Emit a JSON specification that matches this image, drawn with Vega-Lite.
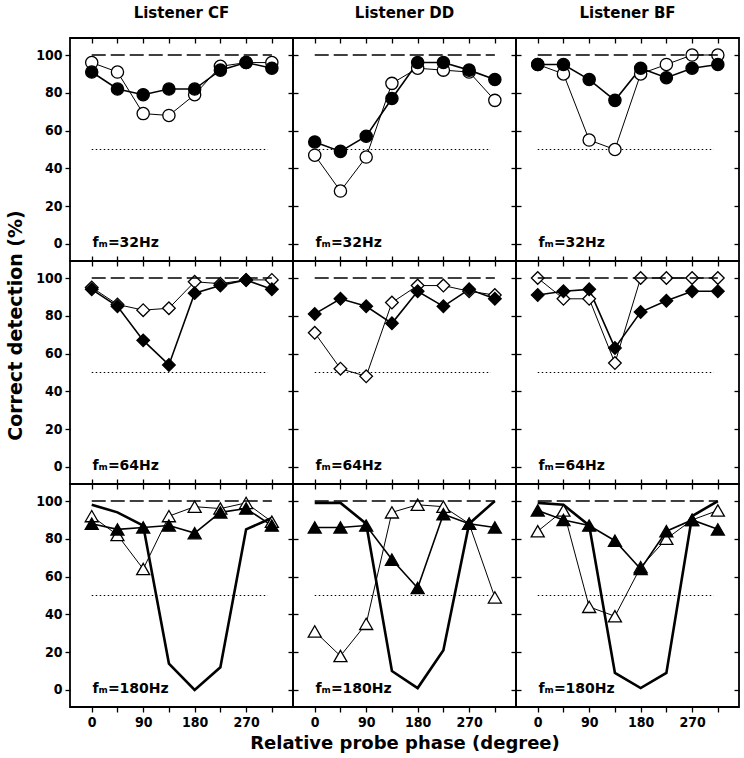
{
"$schema": "https://vega.github.io/schema/vega-lite/v6.json",
"background": "white",
"padding": {"left": 5, "top": 5, "right": 5, "bottom": 2},
"config": {
 "font": "DejaVu Sans",
 "view": {"stroke": "black", "strokeWidth": 1.8},
 "axis": {"domain": false, "grid": false, "tickColor": "black", "tickWidth": 1.3, "tickSize": 5, "labelColor": "black", "labelFontSize": 14, "labelFontWeight": "bold", "labelFont": "DejaVu Sans Condensed, Liberation Sans Narrow, Liberation Sans", "labelPadding": 3, "titleFont": "DejaVu Sans", "titleFontSize": 18, "titleFontWeight": "bold", "titleColor": "black"},
 "title": {"fontSize": 15, "fontWeight": "bold", "font": "DejaVu Sans", "offset": 16, "color": "black"}
},
"datasets": {"obs": [
 {"listener":"all","series":"ceiling","phase":0,"pc":100},{"listener":"all","series":"ceiling","phase":315,"pc":100},
 {"listener":"all","series":"chance","phase":0,"pc":50},{"listener":"all","series":"chance","phase":308,"pc":50},
 {"listener":"CF","fm":32,"series":"open","phase":0,"pc":96},{"listener":"CF","fm":32,"series":"open","phase":45,"pc":91},{"listener":"CF","fm":32,"series":"open","phase":90,"pc":69},{"listener":"CF","fm":32,"series":"open","phase":135,"pc":68},{"listener":"CF","fm":32,"series":"open","phase":180,"pc":79},{"listener":"CF","fm":32,"series":"open","phase":225,"pc":94},{"listener":"CF","fm":32,"series":"open","phase":270,"pc":96},{"listener":"CF","fm":32,"series":"open","phase":315,"pc":96},
 {"listener":"CF","fm":32,"series":"filled","phase":0,"pc":91},{"listener":"CF","fm":32,"series":"filled","phase":45,"pc":82},{"listener":"CF","fm":32,"series":"filled","phase":90,"pc":79},{"listener":"CF","fm":32,"series":"filled","phase":135,"pc":82},{"listener":"CF","fm":32,"series":"filled","phase":180,"pc":82},{"listener":"CF","fm":32,"series":"filled","phase":225,"pc":92},{"listener":"CF","fm":32,"series":"filled","phase":270,"pc":96},{"listener":"CF","fm":32,"series":"filled","phase":315,"pc":93},
 {"listener":"DD","fm":32,"series":"open","phase":0,"pc":47},{"listener":"DD","fm":32,"series":"open","phase":45,"pc":28},{"listener":"DD","fm":32,"series":"open","phase":90,"pc":46},{"listener":"DD","fm":32,"series":"open","phase":135,"pc":85},{"listener":"DD","fm":32,"series":"open","phase":180,"pc":93},{"listener":"DD","fm":32,"series":"open","phase":225,"pc":92},{"listener":"DD","fm":32,"series":"open","phase":270,"pc":91},{"listener":"DD","fm":32,"series":"open","phase":315,"pc":76},
 {"listener":"DD","fm":32,"series":"filled","phase":0,"pc":54},{"listener":"DD","fm":32,"series":"filled","phase":45,"pc":49},{"listener":"DD","fm":32,"series":"filled","phase":90,"pc":57},{"listener":"DD","fm":32,"series":"filled","phase":135,"pc":77},{"listener":"DD","fm":32,"series":"filled","phase":180,"pc":96},{"listener":"DD","fm":32,"series":"filled","phase":225,"pc":96},{"listener":"DD","fm":32,"series":"filled","phase":270,"pc":92},{"listener":"DD","fm":32,"series":"filled","phase":315,"pc":87},
 {"listener":"BF","fm":32,"series":"open","phase":0,"pc":95},{"listener":"BF","fm":32,"series":"open","phase":45,"pc":90},{"listener":"BF","fm":32,"series":"open","phase":90,"pc":55},{"listener":"BF","fm":32,"series":"open","phase":135,"pc":50},{"listener":"BF","fm":32,"series":"open","phase":180,"pc":90},{"listener":"BF","fm":32,"series":"open","phase":225,"pc":95},{"listener":"BF","fm":32,"series":"open","phase":270,"pc":100},{"listener":"BF","fm":32,"series":"open","phase":315,"pc":100},
 {"listener":"BF","fm":32,"series":"filled","phase":0,"pc":95},{"listener":"BF","fm":32,"series":"filled","phase":45,"pc":95},{"listener":"BF","fm":32,"series":"filled","phase":90,"pc":87},{"listener":"BF","fm":32,"series":"filled","phase":135,"pc":76},{"listener":"BF","fm":32,"series":"filled","phase":180,"pc":93},{"listener":"BF","fm":32,"series":"filled","phase":225,"pc":88},{"listener":"BF","fm":32,"series":"filled","phase":270,"pc":93},{"listener":"BF","fm":32,"series":"filled","phase":315,"pc":95},
 {"listener":"CF","fm":64,"series":"open","phase":0,"pc":95},{"listener":"CF","fm":64,"series":"open","phase":45,"pc":86},{"listener":"CF","fm":64,"series":"open","phase":90,"pc":83},{"listener":"CF","fm":64,"series":"open","phase":135,"pc":84},{"listener":"CF","fm":64,"series":"open","phase":180,"pc":98},{"listener":"CF","fm":64,"series":"open","phase":225,"pc":97},{"listener":"CF","fm":64,"series":"open","phase":270,"pc":99},{"listener":"CF","fm":64,"series":"open","phase":315,"pc":99},
 {"listener":"CF","fm":64,"series":"filled","phase":0,"pc":94},{"listener":"CF","fm":64,"series":"filled","phase":45,"pc":85},{"listener":"CF","fm":64,"series":"filled","phase":90,"pc":67},{"listener":"CF","fm":64,"series":"filled","phase":135,"pc":54},{"listener":"CF","fm":64,"series":"filled","phase":180,"pc":92},{"listener":"CF","fm":64,"series":"filled","phase":225,"pc":96},{"listener":"CF","fm":64,"series":"filled","phase":270,"pc":99},{"listener":"CF","fm":64,"series":"filled","phase":315,"pc":94},
 {"listener":"DD","fm":64,"series":"open","phase":0,"pc":71},{"listener":"DD","fm":64,"series":"open","phase":45,"pc":52},{"listener":"DD","fm":64,"series":"open","phase":90,"pc":48},{"listener":"DD","fm":64,"series":"open","phase":135,"pc":87},{"listener":"DD","fm":64,"series":"open","phase":180,"pc":96},{"listener":"DD","fm":64,"series":"open","phase":225,"pc":96},{"listener":"DD","fm":64,"series":"open","phase":270,"pc":93},{"listener":"DD","fm":64,"series":"open","phase":315,"pc":91},
 {"listener":"DD","fm":64,"series":"filled","phase":0,"pc":81},{"listener":"DD","fm":64,"series":"filled","phase":45,"pc":89},{"listener":"DD","fm":64,"series":"filled","phase":90,"pc":85},{"listener":"DD","fm":64,"series":"filled","phase":135,"pc":76},{"listener":"DD","fm":64,"series":"filled","phase":180,"pc":93},{"listener":"DD","fm":64,"series":"filled","phase":225,"pc":85},{"listener":"DD","fm":64,"series":"filled","phase":270,"pc":94},{"listener":"DD","fm":64,"series":"filled","phase":315,"pc":89},
 {"listener":"BF","fm":64,"series":"open","phase":0,"pc":100},{"listener":"BF","fm":64,"series":"open","phase":45,"pc":89},{"listener":"BF","fm":64,"series":"open","phase":90,"pc":89},{"listener":"BF","fm":64,"series":"open","phase":135,"pc":55},{"listener":"BF","fm":64,"series":"open","phase":180,"pc":100},{"listener":"BF","fm":64,"series":"open","phase":225,"pc":100},{"listener":"BF","fm":64,"series":"open","phase":270,"pc":100},{"listener":"BF","fm":64,"series":"open","phase":315,"pc":100},
 {"listener":"BF","fm":64,"series":"filled","phase":0,"pc":91},{"listener":"BF","fm":64,"series":"filled","phase":45,"pc":93},{"listener":"BF","fm":64,"series":"filled","phase":90,"pc":94},{"listener":"BF","fm":64,"series":"filled","phase":135,"pc":63},{"listener":"BF","fm":64,"series":"filled","phase":180,"pc":82},{"listener":"BF","fm":64,"series":"filled","phase":225,"pc":88},{"listener":"BF","fm":64,"series":"filled","phase":270,"pc":93},{"listener":"BF","fm":64,"series":"filled","phase":315,"pc":93},
 {"listener":"CF","fm":180,"series":"model","phase":0,"pc":98},{"listener":"CF","fm":180,"series":"model","phase":45,"pc":94},{"listener":"CF","fm":180,"series":"model","phase":90,"pc":87},{"listener":"CF","fm":180,"series":"model","phase":135,"pc":14},{"listener":"CF","fm":180,"series":"model","phase":180,"pc":0},{"listener":"CF","fm":180,"series":"model","phase":225,"pc":12},{"listener":"CF","fm":180,"series":"model","phase":270,"pc":85},{"listener":"CF","fm":180,"series":"model","phase":315,"pc":91},
 {"listener":"CF","fm":180,"series":"open","phase":0,"pc":92},{"listener":"CF","fm":180,"series":"open","phase":45,"pc":82},{"listener":"CF","fm":180,"series":"open","phase":90,"pc":64},{"listener":"CF","fm":180,"series":"open","phase":135,"pc":92},{"listener":"CF","fm":180,"series":"open","phase":180,"pc":97},{"listener":"CF","fm":180,"series":"open","phase":225,"pc":96},{"listener":"CF","fm":180,"series":"open","phase":270,"pc":99},{"listener":"CF","fm":180,"series":"open","phase":315,"pc":89},
 {"listener":"CF","fm":180,"series":"filled","phase":0,"pc":88},{"listener":"CF","fm":180,"series":"filled","phase":45,"pc":85},{"listener":"CF","fm":180,"series":"filled","phase":90,"pc":86},{"listener":"CF","fm":180,"series":"filled","phase":135,"pc":87},{"listener":"CF","fm":180,"series":"filled","phase":180,"pc":83},{"listener":"CF","fm":180,"series":"filled","phase":225,"pc":94},{"listener":"CF","fm":180,"series":"filled","phase":270,"pc":96},{"listener":"CF","fm":180,"series":"filled","phase":315,"pc":87},
 {"listener":"DD","fm":180,"series":"model","phase":0,"pc":99},{"listener":"DD","fm":180,"series":"model","phase":45,"pc":99},{"listener":"DD","fm":180,"series":"model","phase":90,"pc":88},{"listener":"DD","fm":180,"series":"model","phase":135,"pc":10},{"listener":"DD","fm":180,"series":"model","phase":180,"pc":1},{"listener":"DD","fm":180,"series":"model","phase":225,"pc":21},{"listener":"DD","fm":180,"series":"model","phase":270,"pc":88},{"listener":"DD","fm":180,"series":"model","phase":315,"pc":100},
 {"listener":"DD","fm":180,"series":"open","phase":0,"pc":31},{"listener":"DD","fm":180,"series":"open","phase":45,"pc":18},{"listener":"DD","fm":180,"series":"open","phase":90,"pc":35},{"listener":"DD","fm":180,"series":"open","phase":135,"pc":94},{"listener":"DD","fm":180,"series":"open","phase":180,"pc":98},{"listener":"DD","fm":180,"series":"open","phase":225,"pc":97},{"listener":"DD","fm":180,"series":"open","phase":270,"pc":88},{"listener":"DD","fm":180,"series":"open","phase":315,"pc":49},
 {"listener":"DD","fm":180,"series":"filled","phase":0,"pc":86},{"listener":"DD","fm":180,"series":"filled","phase":45,"pc":86},{"listener":"DD","fm":180,"series":"filled","phase":90,"pc":87},{"listener":"DD","fm":180,"series":"filled","phase":135,"pc":69},{"listener":"DD","fm":180,"series":"filled","phase":180,"pc":54},{"listener":"DD","fm":180,"series":"filled","phase":225,"pc":93},{"listener":"DD","fm":180,"series":"filled","phase":270,"pc":88},{"listener":"DD","fm":180,"series":"filled","phase":315,"pc":86},
 {"listener":"BF","fm":180,"series":"model","phase":0,"pc":99},{"listener":"BF","fm":180,"series":"model","phase":45,"pc":98},{"listener":"BF","fm":180,"series":"model","phase":90,"pc":87},{"listener":"BF","fm":180,"series":"model","phase":135,"pc":9},{"listener":"BF","fm":180,"series":"model","phase":180,"pc":1},{"listener":"BF","fm":180,"series":"model","phase":225,"pc":9},{"listener":"BF","fm":180,"series":"model","phase":270,"pc":92},{"listener":"BF","fm":180,"series":"model","phase":315,"pc":100},
 {"listener":"BF","fm":180,"series":"open","phase":0,"pc":84},{"listener":"BF","fm":180,"series":"open","phase":45,"pc":95},{"listener":"BF","fm":180,"series":"open","phase":90,"pc":44},{"listener":"BF","fm":180,"series":"open","phase":135,"pc":39},{"listener":"BF","fm":180,"series":"open","phase":180,"pc":65},{"listener":"BF","fm":180,"series":"open","phase":225,"pc":80},{"listener":"BF","fm":180,"series":"open","phase":270,"pc":90},{"listener":"BF","fm":180,"series":"open","phase":315,"pc":95},
 {"listener":"BF","fm":180,"series":"filled","phase":0,"pc":95},{"listener":"BF","fm":180,"series":"filled","phase":45,"pc":90},{"listener":"BF","fm":180,"series":"filled","phase":90,"pc":87},{"listener":"BF","fm":180,"series":"filled","phase":135,"pc":79},{"listener":"BF","fm":180,"series":"filled","phase":180,"pc":64},{"listener":"BF","fm":180,"series":"filled","phase":225,"pc":84},{"listener":"BF","fm":180,"series":"filled","phase":270,"pc":90},{"listener":"BF","fm":180,"series":"filled","phase":315,"pc":85}
]},
"columns": 3,
"spacing": 0,
"bounds": "flush",
"concat": [
 {"width":223,"height":223,"title":{"text":"Listener CF"},"data":{"name":"obs"},"resolve":{"axis":{"x":"independent","y":"independent"}},
  "layer":[
   {"encoding":{"x":{"field":"phase","type":"quantitative","scale":{"domain":[-38,352],"nice":false,"zero":false},"axis":{"values":[0,45,90,135,180,225,270,315],"labels":false,"title":"fₘ=32Hz","titleX":22,"titleY":-15,"titleAlign":"left","titleBaseline":"alphabetic","titleFontSize":14}},
     "y":{"field":"pc","type":"quantitative","scale":{"domain":[-9,109],"nice":false,"zero":false},"axis":{"values":[0,20,40,60,80,100],"labels":true,"title":null}}},
    "layer":[
     {"transform":[{"filter":"datum.series == 'chance'"}],"mark":{"type":"line","color":"black","strokeWidth":1.2,"strokeDash":[1.5,2.5]},"encoding":{}},
     {"transform":[{"filter":"datum.listener == 'CF' && datum.fm == 32 && datum.series == 'model'"}],"mark":{"type":"line","color":"black","strokeWidth":2.6},"encoding":{}},
     {"transform":[{"filter":"datum.listener == 'CF' && datum.fm == 32 && datum.series == 'open'"}],"mark":{"type":"line","color":"black","strokeWidth":1},"encoding":{}},
     {"transform":[{"filter":"datum.listener == 'CF' && datum.fm == 32 && datum.series == 'filled'"}],"mark":{"type":"line","color":"black","strokeWidth":1.6},"encoding":{}},
     {"transform":[{"filter":"datum.listener == 'CF' && datum.fm == 32 && datum.series != 'model'"}],"mark":{"type":"point","filled":true,"stroke":"black","strokeWidth":1.3,"opacity":1},"encoding":{"shape":{"field":"fm","type":"nominal","scale":{"domain":[32,64,180],"range":["circle","diamond","triangle-up"]},"legend":null},"size":{"field":"fm","type":"nominal","scale":{"domain":[32,64,180],"range":[150,170,190]},"legend":null},"fill":{"field":"series","type":"nominal","scale":{"domain":["open","filled"],"range":["white","black"]},"legend":null}}}
    ]},
   {"transform":[{"filter":"datum.series == 'ceiling'"}],"mark":{"type":"line","color":"black","strokeWidth":1.6,"strokeDash":[14,5]},"encoding":{"x":{"field":"phase","type":"quantitative","axis":{"orient":"top","values":[0,45,90,135,180,225,270,315],"labels":false,"title":null,"offset":-5}},"y":{"field":"pc","type":"quantitative","axis":{"orient":"right","values":[0,20,40,60,80,100],"labels":false,"title":null}}}}
  ]},
 {"width":223,"height":223,"title":{"text":"Listener DD"},"data":{"name":"obs"},"resolve":{"axis":{"x":"independent","y":"independent"}},
  "layer":[
   {"encoding":{"x":{"field":"phase","type":"quantitative","scale":{"domain":[-38,352],"nice":false,"zero":false},"axis":{"values":[0,45,90,135,180,225,270,315],"labels":false,"title":"fₘ=32Hz","titleX":22,"titleY":-15,"titleAlign":"left","titleBaseline":"alphabetic","titleFontSize":14}},
     "y":{"field":"pc","type":"quantitative","scale":{"domain":[-9,109],"nice":false,"zero":false},"axis":{"values":[0,20,40,60,80,100],"labels":false,"title":null}}},
    "layer":[
     {"transform":[{"filter":"datum.series == 'chance'"}],"mark":{"type":"line","color":"black","strokeWidth":1.2,"strokeDash":[1.5,2.5]},"encoding":{}},
     {"transform":[{"filter":"datum.listener == 'DD' && datum.fm == 32 && datum.series == 'model'"}],"mark":{"type":"line","color":"black","strokeWidth":2.6},"encoding":{}},
     {"transform":[{"filter":"datum.listener == 'DD' && datum.fm == 32 && datum.series == 'open'"}],"mark":{"type":"line","color":"black","strokeWidth":1},"encoding":{}},
     {"transform":[{"filter":"datum.listener == 'DD' && datum.fm == 32 && datum.series == 'filled'"}],"mark":{"type":"line","color":"black","strokeWidth":1.6},"encoding":{}},
     {"transform":[{"filter":"datum.listener == 'DD' && datum.fm == 32 && datum.series != 'model'"}],"mark":{"type":"point","filled":true,"stroke":"black","strokeWidth":1.3,"opacity":1},"encoding":{"shape":{"field":"fm","type":"nominal","scale":{"domain":[32,64,180],"range":["circle","diamond","triangle-up"]},"legend":null},"size":{"field":"fm","type":"nominal","scale":{"domain":[32,64,180],"range":[150,170,190]},"legend":null},"fill":{"field":"series","type":"nominal","scale":{"domain":["open","filled"],"range":["white","black"]},"legend":null}}}
    ]},
   {"transform":[{"filter":"datum.series == 'ceiling'"}],"mark":{"type":"line","color":"black","strokeWidth":1.6,"strokeDash":[14,5]},"encoding":{"x":{"field":"phase","type":"quantitative","axis":{"orient":"top","values":[0,45,90,135,180,225,270,315],"labels":false,"title":null,"offset":-5}},"y":{"field":"pc","type":"quantitative","axis":{"orient":"right","values":[0,20,40,60,80,100],"labels":false,"title":null}}}}
  ]},
 {"width":223,"height":223,"title":{"text":"Listener BF"},"data":{"name":"obs"},"resolve":{"axis":{"x":"independent","y":"independent"}},
  "layer":[
   {"encoding":{"x":{"field":"phase","type":"quantitative","scale":{"domain":[-38,352],"nice":false,"zero":false},"axis":{"values":[0,45,90,135,180,225,270,315],"labels":false,"title":"fₘ=32Hz","titleX":22,"titleY":-15,"titleAlign":"left","titleBaseline":"alphabetic","titleFontSize":14}},
     "y":{"field":"pc","type":"quantitative","scale":{"domain":[-9,109],"nice":false,"zero":false},"axis":{"values":[0,20,40,60,80,100],"labels":false,"title":null}}},
    "layer":[
     {"transform":[{"filter":"datum.series == 'chance'"}],"mark":{"type":"line","color":"black","strokeWidth":1.2,"strokeDash":[1.5,2.5]},"encoding":{}},
     {"transform":[{"filter":"datum.listener == 'BF' && datum.fm == 32 && datum.series == 'model'"}],"mark":{"type":"line","color":"black","strokeWidth":2.6},"encoding":{}},
     {"transform":[{"filter":"datum.listener == 'BF' && datum.fm == 32 && datum.series == 'open'"}],"mark":{"type":"line","color":"black","strokeWidth":1},"encoding":{}},
     {"transform":[{"filter":"datum.listener == 'BF' && datum.fm == 32 && datum.series == 'filled'"}],"mark":{"type":"line","color":"black","strokeWidth":1.6},"encoding":{}},
     {"transform":[{"filter":"datum.listener == 'BF' && datum.fm == 32 && datum.series != 'model'"}],"mark":{"type":"point","filled":true,"stroke":"black","strokeWidth":1.3,"opacity":1},"encoding":{"shape":{"field":"fm","type":"nominal","scale":{"domain":[32,64,180],"range":["circle","diamond","triangle-up"]},"legend":null},"size":{"field":"fm","type":"nominal","scale":{"domain":[32,64,180],"range":[150,170,190]},"legend":null},"fill":{"field":"series","type":"nominal","scale":{"domain":["open","filled"],"range":["white","black"]},"legend":null}}}
    ]},
   {"transform":[{"filter":"datum.series == 'ceiling'"}],"mark":{"type":"line","color":"black","strokeWidth":1.6,"strokeDash":[14,5]},"encoding":{"x":{"field":"phase","type":"quantitative","axis":{"orient":"top","values":[0,45,90,135,180,225,270,315],"labels":false,"title":null,"offset":-5}},"y":{"field":"pc","type":"quantitative","axis":{"orient":"right","values":[0,20,40,60,80,100],"labels":false,"title":null,"offset":-5}}}}
  ]},
 {"width":223,"height":223,"data":{"name":"obs"},"resolve":{"axis":{"x":"independent","y":"independent"}},
  "layer":[
   {"encoding":{"x":{"field":"phase","type":"quantitative","scale":{"domain":[-38,352],"nice":false,"zero":false},"axis":{"values":[0,45,90,135,180,225,270,315],"labels":false,"title":"fₘ=64Hz","titleX":22,"titleY":-15,"titleAlign":"left","titleBaseline":"alphabetic","titleFontSize":14}},
     "y":{"field":"pc","type":"quantitative","scale":{"domain":[-9,109],"nice":false,"zero":false},"axis":{"values":[0,20,40,60,80,100],"labels":true,"title":"Correct detection (%)","titlePadding":10,"titleFontSize":19,"titleY":64}}},
    "layer":[
     {"transform":[{"filter":"datum.series == 'chance'"}],"mark":{"type":"line","color":"black","strokeWidth":1.2,"strokeDash":[1.5,2.5]},"encoding":{}},
     {"transform":[{"filter":"datum.listener == 'CF' && datum.fm == 64 && datum.series == 'model'"}],"mark":{"type":"line","color":"black","strokeWidth":2.6},"encoding":{}},
     {"transform":[{"filter":"datum.listener == 'CF' && datum.fm == 64 && datum.series == 'open'"}],"mark":{"type":"line","color":"black","strokeWidth":1},"encoding":{}},
     {"transform":[{"filter":"datum.listener == 'CF' && datum.fm == 64 && datum.series == 'filled'"}],"mark":{"type":"line","color":"black","strokeWidth":1.6},"encoding":{}},
     {"transform":[{"filter":"datum.listener == 'CF' && datum.fm == 64 && datum.series != 'model'"}],"mark":{"type":"point","filled":true,"stroke":"black","strokeWidth":1.3,"opacity":1},"encoding":{"shape":{"field":"fm","type":"nominal","scale":{"domain":[32,64,180],"range":["circle","diamond","triangle-up"]},"legend":null},"size":{"field":"fm","type":"nominal","scale":{"domain":[32,64,180],"range":[150,170,190]},"legend":null},"fill":{"field":"series","type":"nominal","scale":{"domain":["open","filled"],"range":["white","black"]},"legend":null}}}
    ]},
   {"transform":[{"filter":"datum.series == 'ceiling'"}],"mark":{"type":"line","color":"black","strokeWidth":1.6,"strokeDash":[14,5]},"encoding":{"x":{"field":"phase","type":"quantitative","axis":{"orient":"top","values":[0,45,90,135,180,225,270,315],"labels":false,"title":null}},"y":{"field":"pc","type":"quantitative","axis":{"orient":"right","values":[0,20,40,60,80,100],"labels":false,"title":null}}}}
  ]},
 {"width":223,"height":223,"data":{"name":"obs"},"resolve":{"axis":{"x":"independent","y":"independent"}},
  "layer":[
   {"encoding":{"x":{"field":"phase","type":"quantitative","scale":{"domain":[-38,352],"nice":false,"zero":false},"axis":{"values":[0,45,90,135,180,225,270,315],"labels":false,"title":"fₘ=64Hz","titleX":22,"titleY":-15,"titleAlign":"left","titleBaseline":"alphabetic","titleFontSize":14}},
     "y":{"field":"pc","type":"quantitative","scale":{"domain":[-9,109],"nice":false,"zero":false},"axis":{"values":[0,20,40,60,80,100],"labels":false,"title":null}}},
    "layer":[
     {"transform":[{"filter":"datum.series == 'chance'"}],"mark":{"type":"line","color":"black","strokeWidth":1.2,"strokeDash":[1.5,2.5]},"encoding":{}},
     {"transform":[{"filter":"datum.listener == 'DD' && datum.fm == 64 && datum.series == 'model'"}],"mark":{"type":"line","color":"black","strokeWidth":2.6},"encoding":{}},
     {"transform":[{"filter":"datum.listener == 'DD' && datum.fm == 64 && datum.series == 'open'"}],"mark":{"type":"line","color":"black","strokeWidth":1},"encoding":{}},
     {"transform":[{"filter":"datum.listener == 'DD' && datum.fm == 64 && datum.series == 'filled'"}],"mark":{"type":"line","color":"black","strokeWidth":1.6},"encoding":{}},
     {"transform":[{"filter":"datum.listener == 'DD' && datum.fm == 64 && datum.series != 'model'"}],"mark":{"type":"point","filled":true,"stroke":"black","strokeWidth":1.3,"opacity":1},"encoding":{"shape":{"field":"fm","type":"nominal","scale":{"domain":[32,64,180],"range":["circle","diamond","triangle-up"]},"legend":null},"size":{"field":"fm","type":"nominal","scale":{"domain":[32,64,180],"range":[150,170,190]},"legend":null},"fill":{"field":"series","type":"nominal","scale":{"domain":["open","filled"],"range":["white","black"]},"legend":null}}}
    ]},
   {"transform":[{"filter":"datum.series == 'ceiling'"}],"mark":{"type":"line","color":"black","strokeWidth":1.6,"strokeDash":[14,5]},"encoding":{"x":{"field":"phase","type":"quantitative","axis":{"orient":"top","values":[0,45,90,135,180,225,270,315],"labels":false,"title":null}},"y":{"field":"pc","type":"quantitative","axis":{"orient":"right","values":[0,20,40,60,80,100],"labels":false,"title":null}}}}
  ]},
 {"width":223,"height":223,"data":{"name":"obs"},"resolve":{"axis":{"x":"independent","y":"independent"}},
  "layer":[
   {"encoding":{"x":{"field":"phase","type":"quantitative","scale":{"domain":[-38,352],"nice":false,"zero":false},"axis":{"values":[0,45,90,135,180,225,270,315],"labels":false,"title":"fₘ=64Hz","titleX":22,"titleY":-15,"titleAlign":"left","titleBaseline":"alphabetic","titleFontSize":14}},
     "y":{"field":"pc","type":"quantitative","scale":{"domain":[-9,109],"nice":false,"zero":false},"axis":{"values":[0,20,40,60,80,100],"labels":false,"title":null}}},
    "layer":[
     {"transform":[{"filter":"datum.series == 'chance'"}],"mark":{"type":"line","color":"black","strokeWidth":1.2,"strokeDash":[1.5,2.5]},"encoding":{}},
     {"transform":[{"filter":"datum.listener == 'BF' && datum.fm == 64 && datum.series == 'model'"}],"mark":{"type":"line","color":"black","strokeWidth":2.6},"encoding":{}},
     {"transform":[{"filter":"datum.listener == 'BF' && datum.fm == 64 && datum.series == 'open'"}],"mark":{"type":"line","color":"black","strokeWidth":1},"encoding":{}},
     {"transform":[{"filter":"datum.listener == 'BF' && datum.fm == 64 && datum.series == 'filled'"}],"mark":{"type":"line","color":"black","strokeWidth":1.6},"encoding":{}},
     {"transform":[{"filter":"datum.listener == 'BF' && datum.fm == 64 && datum.series != 'model'"}],"mark":{"type":"point","filled":true,"stroke":"black","strokeWidth":1.3,"opacity":1},"encoding":{"shape":{"field":"fm","type":"nominal","scale":{"domain":[32,64,180],"range":["circle","diamond","triangle-up"]},"legend":null},"size":{"field":"fm","type":"nominal","scale":{"domain":[32,64,180],"range":[150,170,190]},"legend":null},"fill":{"field":"series","type":"nominal","scale":{"domain":["open","filled"],"range":["white","black"]},"legend":null}}}
    ]},
   {"transform":[{"filter":"datum.series == 'ceiling'"}],"mark":{"type":"line","color":"black","strokeWidth":1.6,"strokeDash":[14,5]},"encoding":{"x":{"field":"phase","type":"quantitative","axis":{"orient":"top","values":[0,45,90,135,180,225,270,315],"labels":false,"title":null}},"y":{"field":"pc","type":"quantitative","axis":{"orient":"right","values":[0,20,40,60,80,100],"labels":false,"title":null,"offset":-5}}}}
  ]},
 {"width":223,"height":223,"data":{"name":"obs"},"resolve":{"axis":{"x":"independent","y":"independent"}},
  "layer":[
   {"encoding":{"x":{"field":"phase","type":"quantitative","scale":{"domain":[-38,352],"nice":false,"zero":false},"axis":{"values":[0,45,90,135,180,225,270,315],"labelExpr":"datum.value % 90 == 0 ? datum.label : ''","labels":true,"title":"fₘ=180Hz","titleX":22,"titleY":-15,"titleAlign":"left","titleBaseline":"alphabetic","titleFontSize":14}},
     "y":{"field":"pc","type":"quantitative","scale":{"domain":[-9,109],"nice":false,"zero":false},"axis":{"values":[0,20,40,60,80,100],"labels":true,"title":null}}},
    "layer":[
     {"transform":[{"filter":"datum.series == 'chance'"}],"mark":{"type":"line","color":"black","strokeWidth":1.2,"strokeDash":[1.5,2.5]},"encoding":{}},
     {"transform":[{"filter":"datum.listener == 'CF' && datum.fm == 180 && datum.series == 'model'"}],"mark":{"type":"line","color":"black","strokeWidth":2.6},"encoding":{}},
     {"transform":[{"filter":"datum.listener == 'CF' && datum.fm == 180 && datum.series == 'open'"}],"mark":{"type":"line","color":"black","strokeWidth":1},"encoding":{}},
     {"transform":[{"filter":"datum.listener == 'CF' && datum.fm == 180 && datum.series == 'filled'"}],"mark":{"type":"line","color":"black","strokeWidth":1.6},"encoding":{}},
     {"transform":[{"filter":"datum.listener == 'CF' && datum.fm == 180 && datum.series != 'model'"}],"mark":{"type":"point","filled":true,"stroke":"black","strokeWidth":1.3,"opacity":1},"encoding":{"shape":{"field":"fm","type":"nominal","scale":{"domain":[32,64,180],"range":["circle","diamond","triangle-up"]},"legend":null},"size":{"field":"fm","type":"nominal","scale":{"domain":[32,64,180],"range":[150,170,190]},"legend":null},"fill":{"field":"series","type":"nominal","scale":{"domain":["open","filled"],"range":["white","black"]},"legend":null}}}
    ]},
   {"transform":[{"filter":"datum.series == 'ceiling'"}],"mark":{"type":"line","color":"black","strokeWidth":1.6,"strokeDash":[14,5]},"encoding":{"x":{"field":"phase","type":"quantitative","axis":{"orient":"top","values":[0,45,90,135,180,225,270,315],"labels":false,"title":null}},"y":{"field":"pc","type":"quantitative","axis":{"orient":"right","values":[0,20,40,60,80,100],"labels":false,"title":null}}}}
  ]},
 {"width":223,"height":223,"data":{"name":"obs"},"resolve":{"axis":{"x":"independent","y":"independent"}},
  "layer":[
   {"encoding":{"x":{"field":"phase","type":"quantitative","scale":{"domain":[-38,352],"nice":false,"zero":false},"axis":{"values":[0,45,90,135,180,225,270,315],"labelExpr":"datum.value % 90 == 0 ? datum.label : ''","labels":true,"title":"Relative probe phase (degree)","titlePadding":5}},
     "y":{"field":"pc","type":"quantitative","scale":{"domain":[-9,109],"nice":false,"zero":false},"axis":{"values":[0,20,40,60,80,100],"labels":false,"title":"fₘ=180Hz","titleAngle":0,"titleX":22,"titleY":208,"titleAlign":"left","titleBaseline":"alphabetic","titleFontSize":14}}},
    "layer":[
     {"transform":[{"filter":"datum.series == 'chance'"}],"mark":{"type":"line","color":"black","strokeWidth":1.2,"strokeDash":[1.5,2.5]},"encoding":{}},
     {"transform":[{"filter":"datum.listener == 'DD' && datum.fm == 180 && datum.series == 'model'"}],"mark":{"type":"line","color":"black","strokeWidth":2.6},"encoding":{}},
     {"transform":[{"filter":"datum.listener == 'DD' && datum.fm == 180 && datum.series == 'open'"}],"mark":{"type":"line","color":"black","strokeWidth":1},"encoding":{}},
     {"transform":[{"filter":"datum.listener == 'DD' && datum.fm == 180 && datum.series == 'filled'"}],"mark":{"type":"line","color":"black","strokeWidth":1.6},"encoding":{}},
     {"transform":[{"filter":"datum.listener == 'DD' && datum.fm == 180 && datum.series != 'model'"}],"mark":{"type":"point","filled":true,"stroke":"black","strokeWidth":1.3,"opacity":1},"encoding":{"shape":{"field":"fm","type":"nominal","scale":{"domain":[32,64,180],"range":["circle","diamond","triangle-up"]},"legend":null},"size":{"field":"fm","type":"nominal","scale":{"domain":[32,64,180],"range":[150,170,190]},"legend":null},"fill":{"field":"series","type":"nominal","scale":{"domain":["open","filled"],"range":["white","black"]},"legend":null}}}
    ]},
   {"transform":[{"filter":"datum.series == 'ceiling'"}],"mark":{"type":"line","color":"black","strokeWidth":1.6,"strokeDash":[14,5]},"encoding":{"x":{"field":"phase","type":"quantitative","axis":{"orient":"top","values":[0,45,90,135,180,225,270,315],"labels":false,"title":null}},"y":{"field":"pc","type":"quantitative","axis":{"orient":"right","values":[0,20,40,60,80,100],"labels":false,"title":null}}}}
  ]},
 {"width":223,"height":223,"data":{"name":"obs"},"resolve":{"axis":{"x":"independent","y":"independent"}},
  "layer":[
   {"encoding":{"x":{"field":"phase","type":"quantitative","scale":{"domain":[-38,352],"nice":false,"zero":false},"axis":{"values":[0,45,90,135,180,225,270,315],"labelExpr":"datum.value % 90 == 0 ? datum.label : ''","labels":true,"title":"fₘ=180Hz","titleX":22,"titleY":-15,"titleAlign":"left","titleBaseline":"alphabetic","titleFontSize":14}},
     "y":{"field":"pc","type":"quantitative","scale":{"domain":[-9,109],"nice":false,"zero":false},"axis":{"values":[0,20,40,60,80,100],"labels":false,"title":null}}},
    "layer":[
     {"transform":[{"filter":"datum.series == 'chance'"}],"mark":{"type":"line","color":"black","strokeWidth":1.2,"strokeDash":[1.5,2.5]},"encoding":{}},
     {"transform":[{"filter":"datum.listener == 'BF' && datum.fm == 180 && datum.series == 'model'"}],"mark":{"type":"line","color":"black","strokeWidth":2.6},"encoding":{}},
     {"transform":[{"filter":"datum.listener == 'BF' && datum.fm == 180 && datum.series == 'open'"}],"mark":{"type":"line","color":"black","strokeWidth":1},"encoding":{}},
     {"transform":[{"filter":"datum.listener == 'BF' && datum.fm == 180 && datum.series == 'filled'"}],"mark":{"type":"line","color":"black","strokeWidth":1.6},"encoding":{}},
     {"transform":[{"filter":"datum.listener == 'BF' && datum.fm == 180 && datum.series != 'model'"}],"mark":{"type":"point","filled":true,"stroke":"black","strokeWidth":1.3,"opacity":1},"encoding":{"shape":{"field":"fm","type":"nominal","scale":{"domain":[32,64,180],"range":["circle","diamond","triangle-up"]},"legend":null},"size":{"field":"fm","type":"nominal","scale":{"domain":[32,64,180],"range":[150,170,190]},"legend":null},"fill":{"field":"series","type":"nominal","scale":{"domain":["open","filled"],"range":["white","black"]},"legend":null}}}
    ]},
   {"transform":[{"filter":"datum.series == 'ceiling'"}],"mark":{"type":"line","color":"black","strokeWidth":1.6,"strokeDash":[14,5]},"encoding":{"x":{"field":"phase","type":"quantitative","axis":{"orient":"top","values":[0,45,90,135,180,225,270,315],"labels":false,"title":null}},"y":{"field":"pc","type":"quantitative","axis":{"orient":"right","values":[0,20,40,60,80,100],"labels":false,"title":null,"offset":-5}}}}
  ]}
]
}
